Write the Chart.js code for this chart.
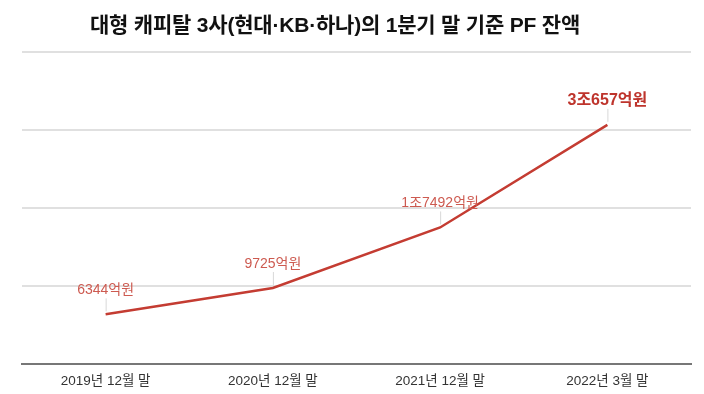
<!DOCTYPE html>
<html>
<head>
<meta charset="utf-8">
<script src="https://cdn.jsdelivr.net/npm/chart.js@4.4.0/dist/chart.umd.min.js"></script>
<style>
  html, body { margin: 0; padding: 0; background: #fff; }
  #wrap { position: relative; width: 704px; height: 394px; }
  #title {
    position: absolute; left: 0; top: 8px; width: 670px; text-align: center;
    font-family: "Liberation Sans", "Noto Sans CJK KR", sans-serif;
    font-weight: bold; font-size: 21px; color: #111; letter-spacing: -0.2px;
  }
</style>
</head>
<body>
<div id="wrap">
  <div id="title">대형 캐피탈 3사(현대·KB·하나)의 1분기 말 기준 PF 잔액</div>
  <canvas id="pfChart" width="704" height="394"></canvas>
</div>
<script>
// 잔액 (억원)
const periods = ['2019년 12월 말', '2020년 12월 말', '2021년 12월 말', '2022년 3월 말'];
const balances = [6344, 9725, 17492, 30657];
const valueLabels = ['6344억원', '9725억원', '1조7492억원', '3조657억원'];

const lineRed = 'rgb(196, 60, 50)';
const labelFont = '"Liberation Sans", "Noto Sans CJK KR", sans-serif';

// draws the value labels with the thin leader lines
const pointLabels = {
    id: 'pointLabels',
    afterDatasetsDraw(chart) {
        const ctx = chart.ctx;
        const meta = chart.getDatasetMeta(0);
        meta.data.forEach(function(pt, i) {
            const last = i === meta.data.length - 1;
            ctx.save();
            ctx.strokeStyle = '#d8d8d8';
            ctx.lineWidth = 1;
            ctx.beginPath();
            ctx.moveTo(pt.x + 0.5, pt.y - 3);
            ctx.lineTo(pt.x + 0.5, pt.y - 16);
            ctx.stroke();
            ctx.font = (last ? 'bold 16px ' : '14px ') + labelFont;
            ctx.fillStyle = last ? 'rgb(190, 52, 44)' : 'rgb(205, 90, 80)';
            ctx.textAlign = 'center';
            ctx.textBaseline = 'middle';
            ctx.fillText(valueLabels[i], pt.x, pt.y - 24);
            ctx.restore();
        });
    }
};

new Chart(document.getElementById('pfChart'), {
    type: 'line',
    data: {
        labels: periods,
        datasets: [{
            data: balances,
            borderColor: lineRed,
            borderWidth: 2.5,
            pointRadius: 0,
            tension: 0,
            fill: false
        }]
    },
    options: {
        responsive: false,
        animation: false,
        layout: { padding: { left: 22, right: 13, top: 52, bottom: 4 } },
        plugins: {
            legend: { display: false },
            tooltip: { enabled: false }
        },
        scales: {
            x: {
                offset: true,
                grid: { display: false },
                border: { display: true, color: '#777', width: 2 },
                ticks: {
                    color: '#333',
                    padding: 1,
                    maxRotation: 0,
                    font: { family: labelFont, size: 13.5 }
                }
            },
            y: {
                min: 0,
                max: 40000,
                ticks: { display: false, stepSize: 10000 },
                border: { display: false },
                grid: { color: '#e0e0e0', lineWidth: 2, drawTicks: false }
            }
        }
    },
    plugins: [pointLabels]
});
</script>
</body>
</html>
